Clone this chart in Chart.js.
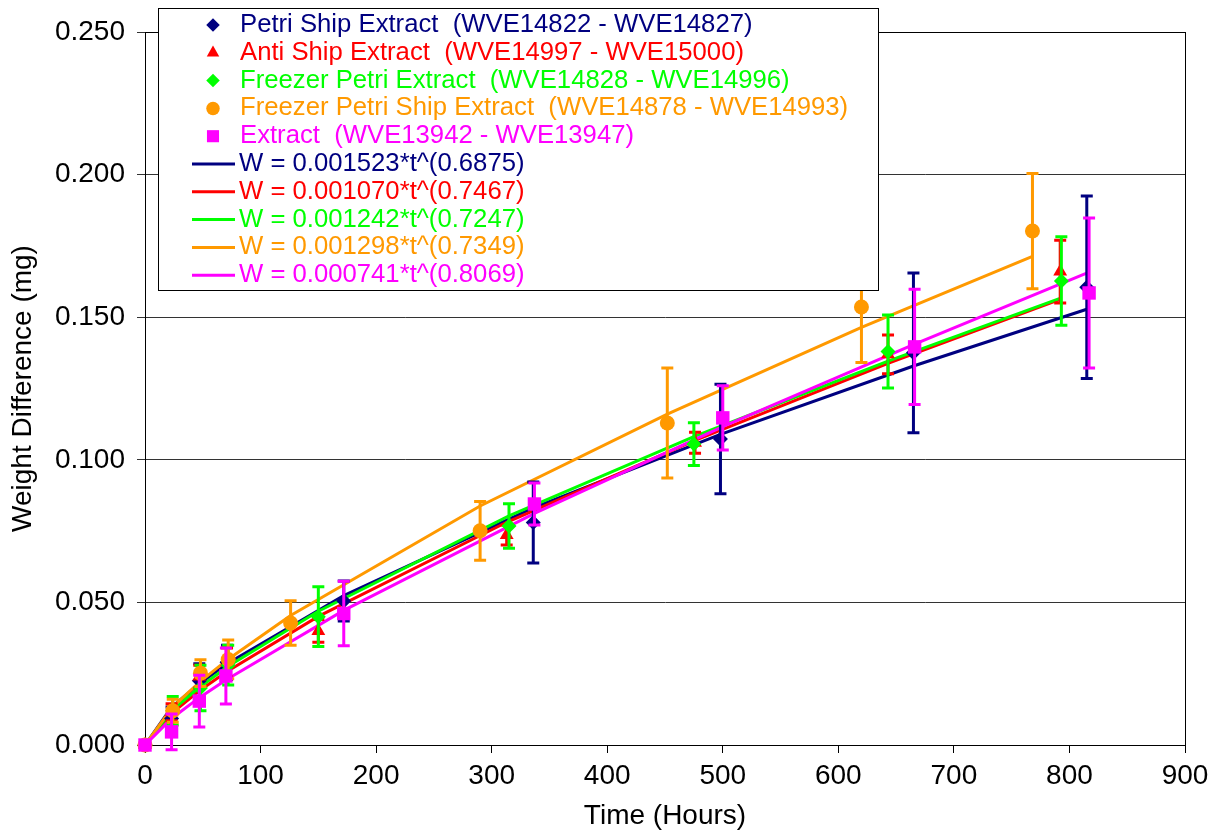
<!DOCTYPE html>
<html>
<head>
<meta charset="utf-8">
<script src="https://cdn.jsdelivr.net/npm/chart.js@4.4.0/dist/chart.umd.min.js"></script>
<style>
  html, body { margin: 0; padding: 0; background: #fff; }
</style>
</head>
<body>
<canvas id="myChart" width="1218" height="833"></canvas>
<script>
// measured series (time in hours, weight difference in mg, error half-width)
var petriShipT   = [0, 23, 47, 71, 172, 336, 498, 665, 815];
var petriShipW   = [0, 0.0093, 0.0225, 0.029, 0.0505, 0.078, 0.1073, 0.1375, 0.1605];
var petriShipErr = [0, 0.004, 0.006, 0.006, 0.007, 0.0142, 0.0192, 0.028, 0.032];

var antiShipT   = [0, 23, 47, 71, 150, 313, 476, 643, 792];
var antiShipW   = [0, 0.0115, 0.024, 0.029, 0.040, 0.0736, 0.106, 0.137, 0.166];
var antiShipErr = [0, 0.003, 0.004, 0.005, 0.004, 0.0035, 0.0037, 0.0068, 0.011];

var freezerPetriT   = [0, 24, 48, 72, 150, 315, 475, 643, 793];
var freezerPetriW   = [0, 0.012, 0.020, 0.028, 0.045, 0.0768, 0.1055, 0.138, 0.1627];
var freezerPetriErr = [0, 0.005, 0.008, 0.007, 0.0105, 0.0078, 0.0075, 0.0128, 0.0155];

var freezerShipT   = [0, 24, 48, 72, 126, 290, 452, 620, 768];
var freezerShipW   = [0, 0.012, 0.0252, 0.030, 0.0428, 0.0751, 0.1129, 0.1536, 0.1802];
var freezerShipErr = [0, 0.004, 0.0047, 0.0068, 0.0078, 0.0103, 0.0193, 0.0195, 0.0202];

var extractT   = [0, 23, 47, 70, 172, 337, 500, 666, 817];
var extractW   = [0, 0.0046, 0.0154, 0.0242, 0.0461, 0.0845, 0.1147, 0.1396, 0.1585];
var extractErr = [0, 0.0063, 0.0091, 0.0098, 0.0113, 0.0074, 0.0113, 0.0202, 0.0263];

// fitted power-law curves, as plotted at the same times
var petriShipFit    = [0, 0.0132, 0.0215, 0.0285, 0.0524, 0.0831, 0.1089, 0.1329, 0.1528];
var antiShipFit     = [0, 0.0111, 0.0190, 0.0258, 0.0451, 0.0781, 0.1068, 0.1338, 0.1563];
var freezerPetriFit = [0, 0.0124, 0.0205, 0.0276, 0.0469, 0.0803, 0.1081, 0.1346, 0.1568];
var freezerShipFit  = [0, 0.0134, 0.0223, 0.0301, 0.0454, 0.0838, 0.1160, 0.1464, 0.1713];
var extractFit      = [0, 0.0093, 0.0166, 0.0228, 0.0472, 0.0812, 0.1116, 0.1406, 0.1658];

var seriesNames = [
    'Petri Ship Extract  (WVE14822 - WVE14827)',
    'Anti Ship Extract  (WVE14997 - WVE15000)',
    'Freezer Petri Extract  (WVE14828 - WVE14996)',
    'Freezer Petri Ship Extract  (WVE14878 - WVE14993)',
    'Extract  (WVE13942 - WVE13947)'
];
var fitNames = [
    'W = 0.001523*t^(0.6875)',
    'W = 0.001070*t^(0.7467)',
    'W = 0.001242*t^(0.7247)',
    'W = 0.001298*t^(0.7349)',
    'W = 0.000741*t^(0.8069)'
];
var yTicks = [0, 0.05, 0.10, 0.15, 0.20, 0.25];

var colors = ['#000080', '#FF0000', '#00FF00', '#FF9900', '#FF00FF'];
var styles = ['rectRot', 'triangle', 'rectRot', 'circle', 'rect'];
var radii  = [7.5, 8, 7.5, 7.5, 9.5];

var times = [petriShipT, antiShipT, freezerPetriT, freezerShipT, extractT];
var values = [petriShipW, antiShipW, freezerPetriW, freezerShipW, extractW];
var errors = [petriShipErr, antiShipErr, freezerPetriErr, freezerShipErr, extractErr];
var fits = [petriShipFit, antiShipFit, freezerPetriFit, freezerShipFit, extractFit];

function pts(t, w) {
    return t.map(function (x, i) { return { x: x, y: w[i] }; });
}

var datasets = [];
for (var i = 0; i < 5; i++) {
    datasets.push({
        label: seriesNames[i],
        data: pts(times[i], values[i]),
        errors: errors[i],
        showLine: false,
        clip: false,
        pointStyle: styles[i],
        pointRadius: radii[i],
        pointHoverRadius: radii[i],
        backgroundColor: colors[i],
        borderColor: colors[i],
        pointBorderWidth: 0,
        order: 10 - i
    });
}
for (var j = 0; j < 5; j++) {
    datasets.push({
        label: fitNames[j],
        data: pts(times[j], fits[j]),
        showLine: true,
        pointRadius: 0,
        borderColor: colors[j],
        borderWidth: 3,
        tension: 0,
        order: 20 - j
    });
}

// error bars drawn right before their markers
var errorBars = {
    id: 'errorBars',
    beforeDatasetDraw: function (chart, args) {
        var ds = chart.data.datasets[args.index];
        if (!ds.errors) return;
        var ctx = chart.ctx, xs = chart.scales.x, ys = chart.scales.y;
        ctx.save();
        ctx.strokeStyle = ds.borderColor;
        ctx.lineWidth = 3;
        ds.data.forEach(function (p, k) {
            var e = ds.errors[k];
            if (!e) return;
            var px = xs.getPixelForValue(p.x);
            var top = ys.getPixelForValue(p.y + e);
            var bot = ys.getPixelForValue(p.y - e);
            ctx.beginPath();
            ctx.moveTo(px, top); ctx.lineTo(px, bot);
            ctx.moveTo(px - 6, top); ctx.lineTo(px + 6, top);
            ctx.moveTo(px - 6, bot); ctx.lineTo(px + 6, bot);
            ctx.stroke();
        });
        ctx.restore();
    }
};

// frame round the plot area
var frame = {
    id: 'frame',
    beforeDatasetsDraw: function (chart) {
        var a = chart.chartArea, ctx = chart.ctx;
        ctx.save();
        ctx.strokeStyle = '#000';
        ctx.lineWidth = 1;
        ctx.strokeRect(a.left + 0.5, a.top + 0.5, a.right - a.left, a.bottom - a.top);
        ctx.restore();
    }
};

// boxed legend in the upper left of the plot
var boxLegend = {
    id: 'boxLegend',
    afterDraw: function (chart) {
        var ctx = chart.ctx;
        ctx.save();
        ctx.fillStyle = '#fff';
        ctx.fillRect(158, 8, 720, 282);
        ctx.strokeStyle = '#000';
        ctx.lineWidth = 1;
        ctx.strokeRect(158.5, 8.5, 720, 282);
        ctx.font = '25.7px "Liberation Sans", Arial, sans-serif';
        ctx.textBaseline = 'middle';
        var rowY = 25, step = 27.8;
        for (var i = 0; i < 5; i++) {
            var y = rowY + i * step;
            ctx.fillStyle = colors[i];
            Chart.helpers.drawPoint(ctx, { pointStyle: styles[i], radius: radii[i] * 0.9, rotation: 0, borderWidth: 0 }, 213, y);
            ctx.fillText(seriesNames[i], 240, y);
        }
        for (var j = 0; j < 5; j++) {
            var y2 = rowY + (j + 5) * step;
            ctx.strokeStyle = colors[j];
            ctx.lineWidth = 3;
            ctx.beginPath();
            ctx.moveTo(192, y2); ctx.lineTo(235, y2);
            ctx.stroke();
            ctx.fillStyle = colors[j];
            ctx.fillText(fitNames[j], 239, y2);
        }
        ctx.restore();
    }
};

var ctx = document.getElementById('myChart').getContext('2d');
var chart = new Chart(ctx, {
    type: 'scatter',
    data: { datasets: datasets },
    options: {
        responsive: false,
        animation: false,
        layout: { padding: { left: 0, right: 33, top: 32, bottom: 0 } },
        plugins: {
            legend: { display: false },
            tooltip: { enabled: false }
        },
        scales: {
            x: {
                type: 'linear',
                min: 0,
                max: 900,
                afterFit: function (s) { s.height = 88; },
                ticks: {
                    stepSize: 100,
                    color: '#000',
                    padding: 6,
                    font: { family: '"Liberation Sans", Arial', size: 28 }
                },
                grid: { drawOnChartArea: false, drawTicks: true, tickLength: 8, color: '#000' },
                border: { color: '#000', width: 1 },
                title: {
                    display: true,
                    text: 'Time (Hours)',
                    color: '#000',
                    padding: { top: 0, bottom: 0 },
                    font: { family: '"Liberation Sans", Arial', size: 28, lineHeight: 1.2 }
                }
            },
            y: {
                min: 0,
                max: 0.25,
                afterFit: function (s) { s.width = 145; },
                afterBuildTicks: function (s) { s.ticks = yTicks.map(function (v) { return { value: v }; }); },
                ticks: {
                    color: '#000',
                    padding: 12,
                    callback: function (v) { return v.toFixed(3); },
                    font: { family: '"Liberation Sans", Arial', size: 28 }
                },
                grid: { drawTicks: true, tickLength: 8, color: '#333', lineWidth: 1 },
                border: { color: '#000', width: 1 },
                title: {
                    display: true,
                    text: 'Weight Difference (mg)',
                    color: '#000',
                    padding: { top: 6, bottom: 0 },
                    font: { family: '"Liberation Sans", Arial', size: 28, lineHeight: 1.2 }
                }
            }
        }
    },
    plugins: [frame, errorBars, boxLegend]
});
</script>
</body>
</html>
